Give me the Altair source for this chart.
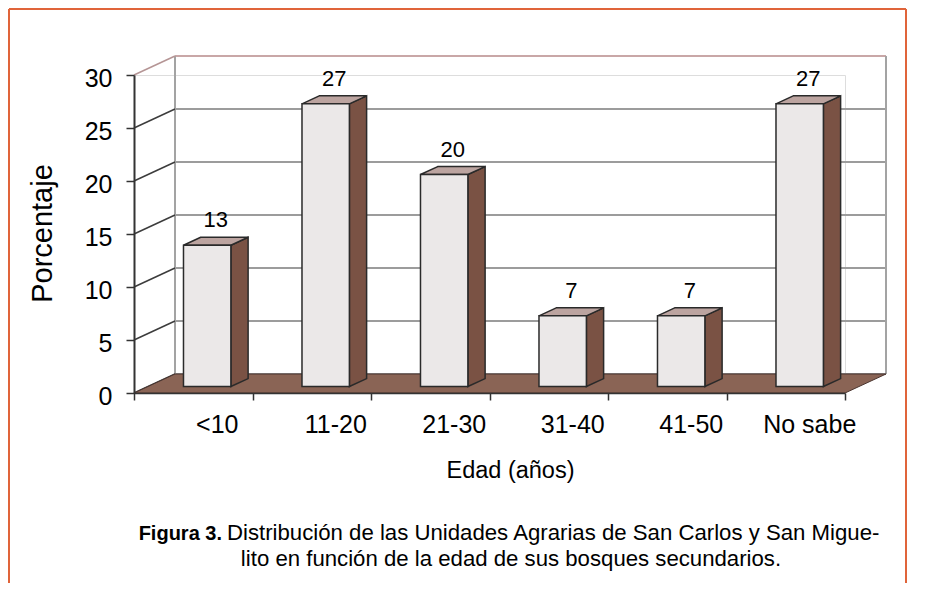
import altair as alt
import pandas as pd

# ---------------- data ----------------
categories = ["<10", "11-20", "21-30", "31-40", "41-50", "No sabe"]
percent = [13.33, 26.67, 20.0, 6.67, 6.67, 26.67]
y_ticks = [0, 5, 10, 15, 20, 25, 30]
y_title = "Porcentaje"
x_title = "Edad (años)"
caption_bold = ["Figura 3."]
caption_line1 = ["Distribución de las Unidades Agrarias de San Carlos y San Migue-"]
caption_line2 = ["lito en función de la edad de sus bosques secundarios."]

# ---------------- style / geometry constants ----------------
FONT = "Liberation Sans, Arial, Helvetica, sans-serif"
W, H = 711, 318
N = len(categories)
YMAX = 30
px_x = W / N
px_y = H / YMAX
DX = 41 / px_x      # depth of the 3D box, in x data units
DY = 19 / px_y      # depth of the 3D box, in y data units
F0, F1 = 0.34, 0.76  # bar front/back position within the depth
BL, BR = 0.30, 0.70  # bar extent within its band
FM = (F0 + F1) / 2

xs = alt.Scale(domain=[0, N], nice=False, zero=False)
ys = alt.Scale(domain=[0, YMAX], nice=False, zero=False)

# ---------------- derived tables ----------------
front_rows, side_rows, top_rows = [], [], []
for i, (c, v) in enumerate(zip(categories, percent)):
    front_rows.append(dict(cat=c, x=i + BL + F0 * DX, x2=i + BR + F0 * DX,
                           y=F0 * DY, y2=v + F0 * DY))
    for f in (F0, F1):
        side_rows.append(dict(cat=c, x=i + BR + f * DX, y=f * DY, y2=v + f * DY))
        top_rows.append(dict(cat=c, y=v + f * DY, x=i + BL + f * DX, x2=i + BR + f * DX))
front_df = pd.DataFrame(front_rows)
side_df = pd.DataFrame(side_rows)
top_df = pd.DataFrame(top_rows)

val_df = pd.DataFrame(dict(v=percent,
                           x=[i + 0.5 + FM * DX for i in range(N)],
                           y=[v + FM * DY for v in percent]))
cat_df = pd.DataFrame(dict(cat=categories, x=[i + 0.5 for i in range(N)], y=[0] * N))

grid_df = pd.DataFrame(dict(v=y_ticks,
                            x=[DX] * len(y_ticks), x2=[N + DX] * len(y_ticks),
                            y=[t + DY for t in y_ticks]))
diag_df = pd.DataFrame(dict(v=y_ticks, x=[0] * len(y_ticks), x2=[DX] * len(y_ticks),
                            y=y_ticks, y2=[t + DY for t in y_ticks]))
backv_df = pd.DataFrame(dict(x=[DX, N + DX], y=[DY, DY], y2=[YMAX + DY, YMAX + DY]))
floor_df = pd.DataFrame(dict(y=[0, DY], x=[0, DX], x2=[N, N + DX]))
one = pd.DataFrame(dict(a=[0]))

# ---------------- axes (same definition on every layer so they merge) ----------------
axis_y = alt.Axis(values=y_ticks, title=y_title, grid=False, tickSize=8,
                  tickColor="#333333", tickWidth=1.5, domainColor="#333333",
                  domainWidth=2, labelFontSize=25, labelFont=FONT, labelColor="black",
                  labelPadding=14, labelOffset=3, titleFont=FONT, titleFontSize=29,
                  titleFontWeight="normal", titleColor="black", titleX=-92,
                  titleY=158, titleAngle=270, titleAlign="center",
                  titleBaseline="middle", zindex=1)
axis_x = alt.Axis(values=list(range(N + 1)), labels=False, grid=False, tickSize=7,
                  tickColor="#333333", tickWidth=1.5, domainColor="#333333",
                  domainWidth=1.5, title=x_title, titleFont=FONT, titleFontSize=23.5,
                  titleFontWeight="normal", titleColor="black", titleX=376, titleY=77,
                  titleAlign="center", titleBaseline="middle", zindex=1)


def X(f):
    return alt.X(f, scale=xs, axis=axis_x)


def Y(f):
    return alt.Y(f, scale=ys, axis=axis_y)


# ---------------- layers ----------------
border_l = alt.Chart(one).mark_rule(color="#e0643a", strokeWidth=2).encode(
    x=alt.value(-125), y=alt.value(-66), y2=alt.value(520))
border_r = alt.Chart(one).mark_rule(color="#e0643a", strokeWidth=2).encode(
    x=alt.value(772), y=alt.value(-66), y2=alt.value(520))
border_t = alt.Chart(one).mark_rule(color="#e0643a", strokeWidth=2).encode(
    x=alt.value(-125), x2=alt.value(772), y=alt.value(-66))

grid = alt.Chart(grid_df).mark_rule(strokeWidth=2).encode(
    x=X("x:Q"), x2="x2:Q", y=Y("y:Q"),
    color=alt.condition("datum.v == 30", alt.value("#c9a7a7"), alt.value("#9c9c9c")),
)
backv = alt.Chart(backv_df).mark_rule(strokeWidth=2, color="#a3a3a3").encode(
    x=X("x:Q"), y=Y("y:Q"), y2="y2:Q")
diag = alt.Chart(diag_df).mark_rule(strokeWidth=1.5).encode(
    x=X("x:Q"), x2="x2:Q", y=Y("y:Q"), y2="y2:Q",
    color=alt.condition("datum.v == 30", alt.value("#b59595"), alt.value("#3c3c3c")),
)
floor = alt.Chart(floor_df).mark_area(orient="horizontal", color="#8a6455",
                                      stroke="#4a3530", strokeWidth=1).encode(
    y=Y("y:Q"), x=X("x:Q"), x2="x2:Q")

side = alt.Chart(side_df).mark_area(orient="vertical", color="#7a5244",
                                    stroke="#2a2a2a", strokeWidth=1.5).encode(
    x=X("x:Q"), y=Y("y:Q"), y2="y2:Q", detail="cat:N")
top = alt.Chart(top_df).mark_area(orient="horizontal", color="#bca4a0",
                                  stroke="#2a2a2a", strokeWidth=1.5).encode(
    y=Y("y:Q"), x=X("x:Q"), x2="x2:Q", detail="cat:N")
front = alt.Chart(front_df).mark_rect(color="#ebe8e8", stroke="#2a2a2a",
                                      strokeWidth=1.5).encode(
    x=X("x:Q"), x2="x2:Q", y=Y("y:Q"), y2="y2:Q")

vals = alt.Chart(val_df).mark_text(font=FONT, fontSize=22, color="black",
                                   baseline="alphabetic", dy=-14).encode(
    x=X("x:Q"), y=Y("y:Q"), text=alt.Text("v:Q", format=".0f"))
cats = alt.Chart(cat_df).mark_text(font=FONT, fontSize=25, color="black",
                                   baseline="middle", dx=24, dy=32).encode(
    x=X("x:Q"), y=Y("y:Q"), text="cat:N")

cap_b = alt.Chart(pd.DataFrame(dict(t=caption_bold))).mark_text(
    font=FONT, fontSize=20, fontWeight="bold", color="black", align="right",
    baseline="alphabetic").encode(x=alt.value(88), y=alt.value(465), text="t:N")
cap_1 = alt.Chart(pd.DataFrame(dict(t=caption_line1))).mark_text(
    font=FONT, fontSize=22.2, color="black", align="left",
    baseline="alphabetic").encode(x=alt.value(93), y=alt.value(465), text="t:N")
cap_2 = alt.Chart(pd.DataFrame(dict(t=caption_line2))).mark_text(
    font=FONT, fontSize=22.2, color="black", align="center",
    baseline="alphabetic").encode(x=alt.value(377), y=alt.value(491), text="t:N")

chart = alt.layer(
    grid, backv, diag, floor, side, top, front, vals, cats,
    cap_b, cap_1, cap_2, border_l, border_r, border_t,
).properties(
    width=W, height=H, autosize=alt.AutoSizeParams(type="none"),
    padding={"left": 126, "top": 67, "right": 76, "bottom": 190},
).configure_view(stroke=None).configure(background="white")

chart.save("out.html", embed_options={"renderer": "svg", "actions": False})
